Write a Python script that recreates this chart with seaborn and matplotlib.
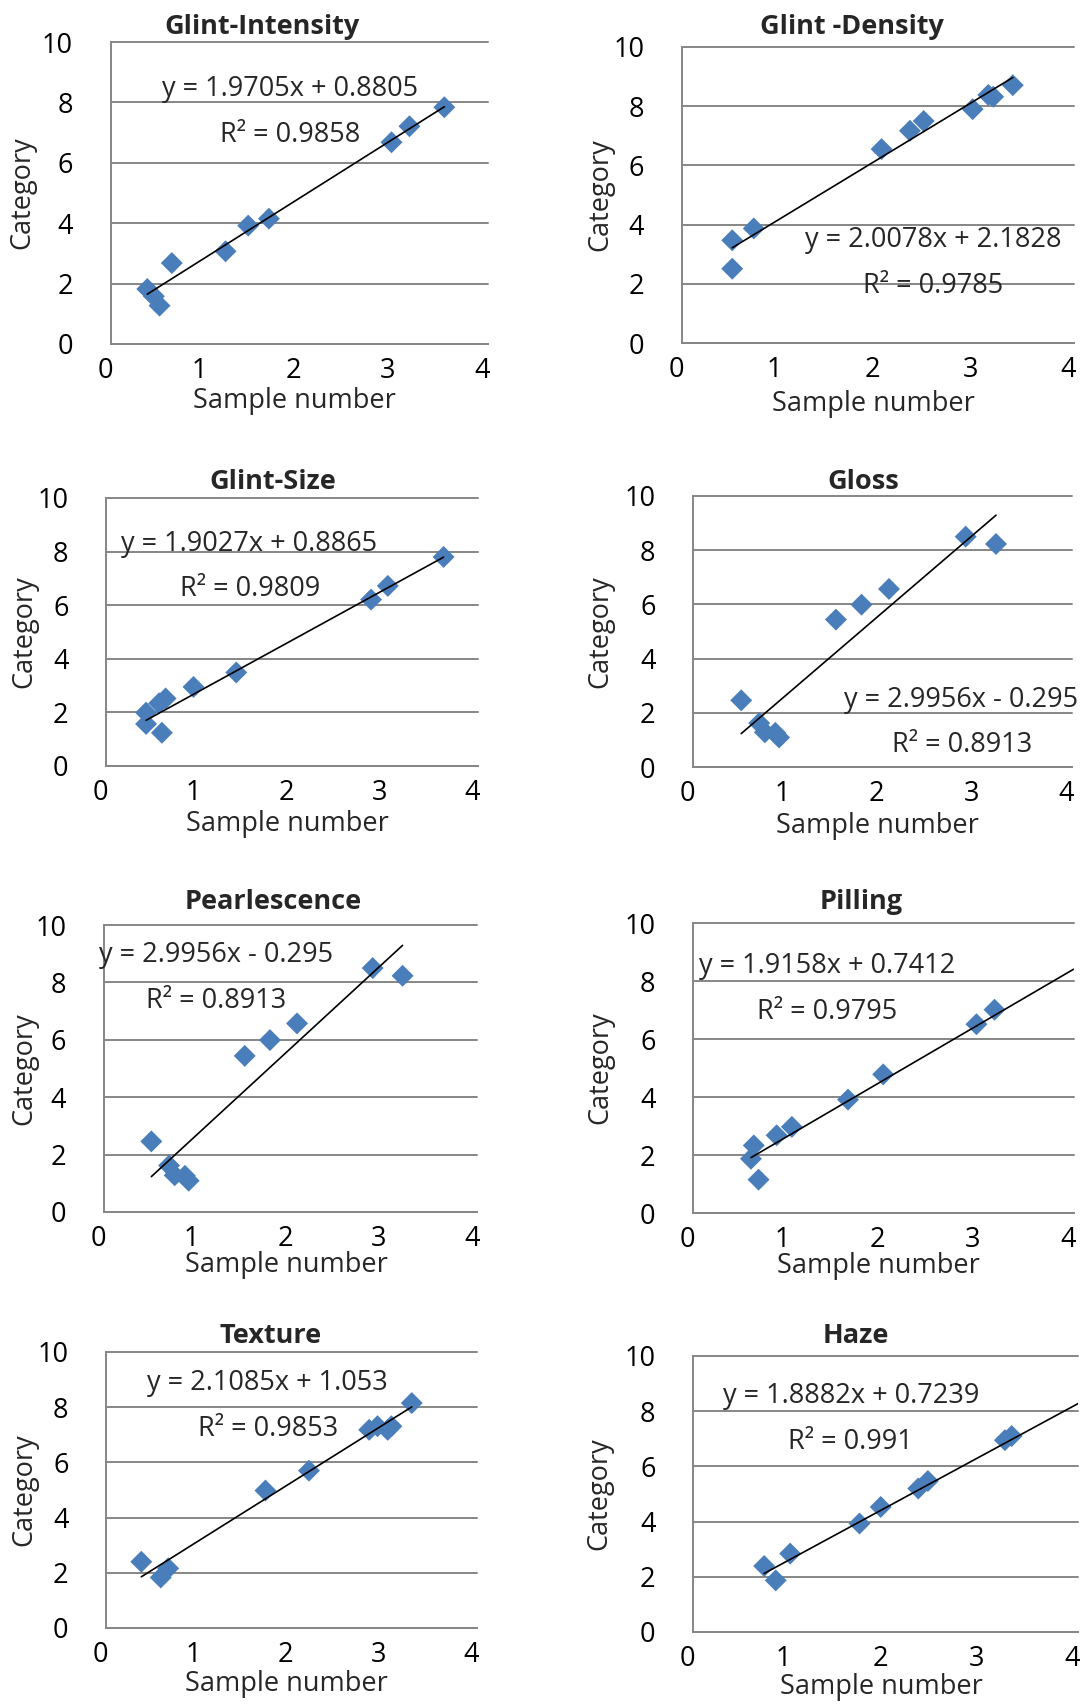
import numpy as np
import pandas as pd
import matplotlib
matplotlib.use("Agg")
import matplotlib.pyplot as plt
import seaborn as sns
from matplotlib.transforms import ScaledTranslation

# ---------------- data ----------------
titles = ["Glint-Intensity", "Glint -Density", "Glint-Size", "Gloss",
          "Pearlescence", "Pilling", "Texture", "Haze"]

gi_x = [0.39, 0.46, 0.52, 0.65, 1.22, 1.46, 1.68, 2.98, 3.17, 3.54]
gi_y = [1.82, 1.58, 1.27, 2.68, 3.07, 3.92, 4.15, 6.68, 7.21, 7.84]

gd_x = [0.515, 0.515, 0.735, 2.04, 2.33, 2.47, 2.97, 3.13, 3.18, 3.38]
gd_y = [3.47, 2.51, 3.87, 6.55, 7.17, 7.50, 7.90, 8.38, 8.32, 8.71]

gs_x = [0.43, 0.43, 0.60, 0.57, 0.64, 0.94, 1.40, 2.85, 3.03, 3.63]
gs_y = [1.99, 1.57, 1.24, 2.34, 2.52, 2.95, 3.49, 6.21, 6.72, 7.80]

gl_x = [0.51, 0.70, 0.76, 0.87, 0.91, 1.51, 1.78, 2.07, 2.88, 3.20]
gl_y = [2.46, 1.62, 1.28, 1.26, 1.09, 5.44, 5.99, 6.57, 8.50, 8.23]

pe_x = [0.51, 0.70, 0.76, 0.87, 0.91, 1.51, 1.78, 2.07, 2.88, 3.20]
pe_y = [2.46, 1.62, 1.28, 1.26, 1.09, 5.44, 5.99, 6.57, 8.50, 8.23]

pi_x = [0.64, 0.61, 0.69, 0.88, 1.04, 1.63, 2.00, 2.98, 3.17]
pi_y = [2.33, 1.87, 1.15, 2.68, 2.97, 3.91, 4.78, 6.51, 7.01]

te_x = [0.38, 0.59, 0.67, 1.72, 2.19, 2.84, 2.93, 3.04, 3.08, 3.30]
te_y = [2.40, 1.83, 2.16, 4.98, 5.70, 7.18, 7.31, 7.18, 7.31, 8.15]

ha_x = [0.74, 0.86, 1.01, 1.73, 1.95, 2.34, 2.44, 3.24, 3.31]
ha_y = [2.39, 1.87, 2.84, 3.93, 4.53, 5.20, 5.47, 6.95, 7.10]

xs = [gi_x, gd_x, gs_x, gl_x, pe_x, pi_x, te_x, ha_x]
ys = [gi_y, gd_y, gs_y, gl_y, pe_y, pi_y, te_y, ha_y]

slopes = [1.9705, 2.0078, 1.9027, 2.9956, 2.9956, 1.9158, 2.1085, 1.8882]
intercepts = [0.8805, 2.1828, 0.8865, -0.295, -0.295, 0.7412, 1.053, 0.7239]
trend_end = [None, None, None, None, None, 4.0, None, 4.0]   # forward forecast to x=4

eq_labels = ["y = 1.9705x + 0.8805", "y = 2.0078x + 2.1828", "y = 1.9027x + 0.8865",
             "y = 2.9956x - 0.295", "y = 2.9956x - 0.295", "y = 1.9158x + 0.7412",
             "y = 2.1085x + 1.053", "y = 1.8882x + 0.7239"]
r2_labels = ["R² = 0.9858", "R² = 0.9785", "R² = 0.9809", "R² = 0.8913",
             "R² = 0.8913", "R² = 0.9795", "R² = 0.9853", "R² = 0.991"]

x_ticks = [0, 1, 2, 3, 4]
y_ticks = [0, 2, 4, 6, 8, 10]
x_label = "Sample number"
y_label = "Category"

# ---------------- layout (pixels) ----------------
W, H = 1085, 1704
boxes = [(110.5, 487.7, 42, 344), (681.8, 1073.5, 47, 343),
         (106.1, 478.0, 498, 766), (692.9, 1071.8, 496, 767),
         (103.7, 477.3, 925, 1212), (692.9, 1073.5, 923, 1213),
         (106.1, 476.6, 1352, 1628), (692.9, 1078.1, 1356, 1632)]
eq_pos = [(1.90, 8.44), (2.57, 3.47), (1.54, 8.30), (2.83, 2.46),
          (1.20, 8.95), (1.41, 8.51), (1.74, 8.87), (1.64, 8.55)]
r2_pos = [(1.90, 6.93), (2.57, 1.92), (1.55, 6.60), (2.84, 0.80),
          (1.20, 7.35), (1.41, 6.93), (1.75, 7.22), (1.64, 6.89)]
title_pos = [(262.4, 34), (851.8, 34), (272.8, 489), (863.6, 489),
             (273.4, 909), (861.5, 909), (270.3, 1343), (856.3, 1343)]
ylab_off = [74, 67, 67.5, 79, 65, 79, 67.5, 80]
xlab_gap = [51, 55, 52, 53, 47, 47, 50, 49]

sns.set_style("white")
plt.rcParams["font.family"] = ["Open Sans", "DejaVu Sans"]

grid_c = "#868686"
mark_c = "#4A7EBB"
fs = 19.5

fig = plt.figure(figsize=(W / 100, H / 100), dpi=100)

for i in range(8):
    l, r, t, b = boxes[i]
    ax = fig.add_axes([l / W, 1 - b / H, (r - l) / W, (b - t) / H])
    df = pd.DataFrame({"x": xs[i], "y": ys[i]})
    sns.scatterplot(data=df, x="x", y="y", ax=ax, marker="D", s=125,
                    color=mark_c, edgecolor="none", zorder=3, legend=False)
    x0 = min(xs[i])
    x1 = trend_end[i] if trend_end[i] is not None else max(xs[i])
    tx = np.array([x0, x1])
    tdf = pd.DataFrame({"x": tx, "y": slopes[i] * tx + intercepts[i]})
    sns.lineplot(data=tdf, x="x", y="y", ax=ax, color="black", lw=1.2,
                 zorder=4, legend=False)

    ax.set_xlim(0, 4)
    ax.set_ylim(0, 10)
    ax.set_xticks(x_ticks)
    ax.set_yticks(y_ticks)
    ax.set_xticklabels([str(v) for v in x_ticks])
    ax.set_yticklabels([str(v) for v in y_ticks])
    ax.yaxis.grid(True, color=grid_c, lw=1.4)
    ax.xaxis.grid(False)
    for gl in ax.get_ygridlines():
        gl.set_clip_on(False)
    for s in ["top", "right"]:
        ax.spines[s].set_visible(False)
    for s in ["left", "bottom"]:
        ax.spines[s].set_color(grid_c)
        ax.spines[s].set_linewidth(1.4)
    ax.tick_params(axis="x", direction="out", length=7.7, width=1.4,
                   color=grid_c, pad=2, labelsize=fs, labelcolor="black")
    ax.tick_params(axis="y", length=0, pad=27, labelsize=fs, labelcolor="black")
    for lab in ax.get_xticklabels():
        lab.set_transform(lab.get_transform() + ScaledTranslation(-5.5 / 100, 0, fig.dpi_scale_trans))

    ax.set_xlabel(x_label, fontsize=fs)
    ax.set_ylabel(y_label, fontsize=fs)
    ax.yaxis.set_label_coords(-ylab_off[i] / (r - l), 0.5)
    ax.xaxis.set_label_coords(0.5 + (-4.5) / (r - l), -(xlab_gap[i] - 8) / (b - t))

    ax.text(eq_pos[i][0], eq_pos[i][1], eq_labels[i], ha="center", va="center",
            fontsize=fs, zorder=5)
    ax.text(r2_pos[i][0], r2_pos[i][1], r2_labels[i], ha="center", va="center",
            fontsize=fs, zorder=5)
    tx_, ty_ = title_pos[i]
    fig.text(tx_ / W, 1 - ty_ / H, titles[i], ha="center", va="baseline",
             fontsize=fs, fontweight="bold")

fig.savefig("out.png", dpi=100)
